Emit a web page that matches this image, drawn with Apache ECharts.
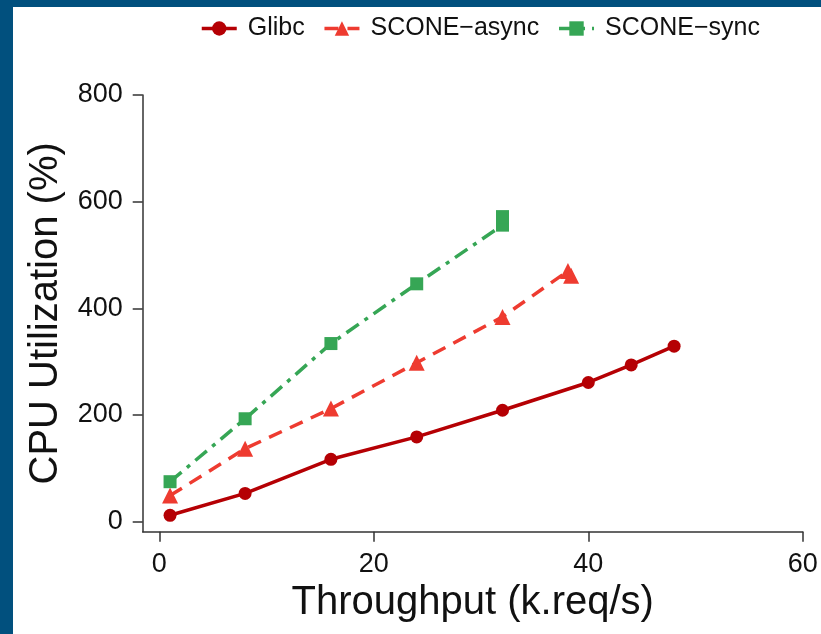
<!DOCTYPE html>
<html>
<head>
<meta charset="utf-8">
<script src="https://cdn.jsdelivr.net/npm/echarts@6/dist/echarts.min.js"></script>
<style>
	html, body { margin: 0; padding: 0; background: #01507E; }
	#content {
		position: absolute;
		left: 13px;
		top: 7px;
		width: 808px;
		height: 627px;
		background: #ffffff;
	}
</style>
</head>
<body>
<div id="content"></div>
<script>
	// throughput (k.req/s) and CPU utilization (%)
	var glibcX = [1, 8, 16, 24, 32, 40, 44, 48];
	var glibcY = [12, 53, 117, 159, 209, 261, 294, 329];
	var asyncX = [1, 8, 16, 24, 32, 38.1, 38.4];
	var asyncY = [49, 137, 212, 298, 384, 470, 461];
	var syncX = [1, 8, 16, 24, 32, 32];
	var syncY = [75, 193, 334, 446, 556, 572];
	var xTicks = [0, 20, 40, 60];
	var yTicks = [0, 200, 400, 600, 800];

	function pairs(xs, ys) {
		var out = [];
		for (var i = 0; i < xs.length; i++) {
			out.push([xs[i], ys[i]]);
		}
		return out;
	}

	var font = 'Liberation Sans, Arial, sans-serif';
	var axisColor = '#333333';

	var chart = echarts.init(document.getElementById('content'));
	chart.setOption({
		animation: false,
		textStyle: { fontFamily: font },
		legend: {
			left: 182,
			top: 4,
			itemWidth: 35,
			itemHeight: 18,
			itemGap: 18,
			lineStyle: { width: 3.5 },
			textStyle: {
				fontSize: 25,
				color: '#111111',
				padding: [0, 0, 0, 6]
			},
			data: ['Glibc', 'SCONE\u2212async', 'SCONE\u2212sync']
		},
		grid: {
			left: 129.7,
			right: 18.2,
			top: 88,
			bottom: 102.3,
			containLabel: false
		},
		xAxis: {
			type: 'value',
			min: -1.55,
			max: 60,
			name: 'Throughput (k.req/s)',
			nameLocation: 'middle',
			nameGap: 41,
			nameTextStyle: { fontSize: 40, color: '#111111' },
			axisLine: { show: true, onZero: false, lineStyle: { color: axisColor, width: 1.5 } },
			axisTick: {
				show: true,
				inside: false,
				length: 10,
				customValues: xTicks,
				lineStyle: { color: axisColor, width: 1.5 }
			},
			axisLabel: {
				customValues: xTicks,
				margin: 19,
				fontSize: 27,
				color: '#111111'
			},
			splitLine: { show: false }
		},
		yAxis: {
			type: 'value',
			min: -18.75,
			max: 800,
			name: 'CPU Utilization (%)',
			nameLocation: 'middle',
			nameGap: 77,
			nameTextStyle: { fontSize: 40, color: '#111111' },
			axisLine: { show: true, onZero: false, lineStyle: { color: axisColor, width: 1.5 } },
			axisTick: {
				show: true,
				inside: false,
				length: 10,
				customValues: yTicks,
				lineStyle: { color: axisColor, width: 1.5 }
			},
			axisLabel: {
				customValues: yTicks,
				margin: 20,
				fontSize: 27,
				color: '#111111'
			},
			splitLine: { show: false }
		},
		series: [{
			name: 'Glibc',
			type: 'line',
			data: pairs(glibcX, glibcY),
			symbol: 'circle',
			symbolSize: 13,
			itemStyle: { color: '#B50004' },
			lineStyle: { color: '#B50004', width: 3.5, type: 'solid' }
		}, {
			name: 'SCONE\u2212async',
			type: 'line',
			data: pairs(asyncX, asyncY),
			symbol: 'triangle',
			symbolSize: 16,
			itemStyle: { color: '#EE3B30' },
			lineStyle: { color: '#EE3B30', width: 3.5, type: [14, 9] }
		}, {
			name: 'SCONE\u2212sync',
			type: 'line',
			data: pairs(syncX, syncY),
			symbol: 'rect',
			symbolSize: 13,
			itemStyle: { color: '#36A655' },
			lineStyle: { color: '#36A655', width: 3.5, type: [15, 7, 4, 7] }
		}]
	});
</script>
</body>
</html>
